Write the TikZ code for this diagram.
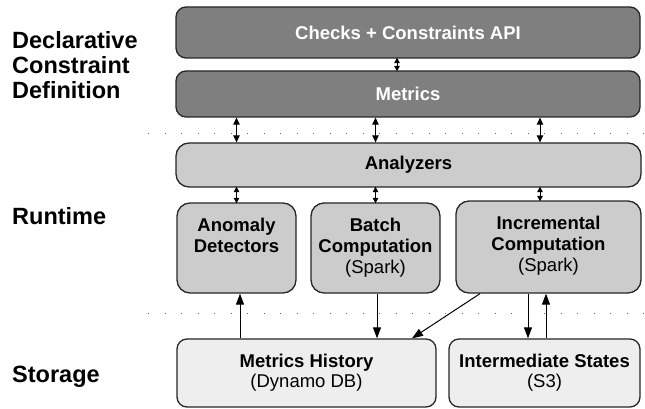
\documentclass[tikz,border=0pt]{standalone}
\usepackage{fontspec}
\setmainfont{Liberation Sans}
\usetikzlibrary{arrows.meta,positioning}

\definecolor{darkbox}{HTML}{7F7F7F}
\definecolor{midbox}{HTML}{CCCCCC}
\definecolor{lightbox}{HTML}{EEEEEE}

\tikzset{
  layerbox/.style={draw=black!85, line width=1.3pt, rounded corners=10pt, align=center, inner sep=0pt},
  apibox/.style={layerbox, fill=darkbox, text=white, font=\fontsize{18.5}{21}\selectfont\bfseries},
  runbox/.style={layerbox, fill=midbox, rounded corners=13pt},
  storebox/.style={layerbox, fill=lightbox, font=\fontsize{18.5}{20}\selectfont},
  boxtext/.style={align=center, inner sep=0pt, font=\fontsize{18.5}{21}\selectfont},
  sidelabel/.style={align=left, inner sep=0pt, font=\fontsize{23.5}{25}\selectfont\bfseries},
  dbl/.style={line width=0.9pt, {Triangle[length=7pt,width=6.5pt]}-{Triangle[length=7pt,width=6.5pt]}},
  smalldbl/.style={line width=1pt, shorten <=-1pt, shorten >=-1pt, {Triangle[length=5.5pt,width=5.5pt]}-{Triangle[length=5.5pt,width=5.5pt]}},
  flow/.style={line width=1pt, -{Triangle[length=11pt,width=8pt]}},
  layerline/.style={black!60, line width=0.9pt, dash pattern=on 0.9pt off 15.6pt}
}

\begin{document}
\begin{tikzpicture}[x=1pt, y=-1pt]
  \useasboundingbox (0,0) rectangle (645,409);

  %Linhas entre camadas
  \draw[layerline] (148,133) -- (645,133);
  \draw[layerline] (148,313) -- (645,313);

  %Rotulos laterais
  \node[sidelabel, anchor=north west] (decl) at (12,31) {Declarative\\Constraint\\Definition};
  \node[sidelabel, anchor=base west] (runlbl) at (12,224) {Runtime};
  \node[sidelabel, anchor=base west] (storelbl) at (12,382) {Storage};

  %Camada declarativa
  \node[apibox, minimum width=464, minimum height=51] (api) at (408,32.5) {Checks + Constraints API};
  \node[apibox, minimum width=464, minimum height=46] (metrics) at (408,94) {Metrics};

  %Camada de execucao
  \node[runbox, minimum width=465, minimum height=44, font=\fontsize{18.5}{21}\selectfont\bfseries] (analyzers) at (408.5,165) {Analyzers};
  \node[runbox, minimum width=119, minimum height=90] (anomaly) at (236.5,248) {};
  \node[boxtext, below=16pt of anomaly.north] (anomalytxt) {\textbf{Anomaly}\\\textbf{Detectors}};
  \node[runbox, minimum width=129, minimum height=90] (batch) at (375.5,248) {};
  \node[boxtext, below=16pt of batch.north] (batchtxt) {\textbf{Batch}\\\textbf{Computation}\\(Spark)};
  \node[runbox, minimum width=185, minimum height=92] (incr) at (548.5,247) {};
  \node[boxtext, below=16pt of incr.north] (incrtxt) {\textbf{Incremental}\\\textbf{Computation}\\(Spark)};

  %Camada de armazenamento
  \node[storebox, minimum width=259, minimum height=68] (history) at (306.5,373) {\textbf{Metrics History}\\(Dynamo DB)};
  \node[storebox, minimum width=191, minimum height=68] (states) at (544.5,373) {\textbf{Intermediate States}\\(S3)};

  %Setas duplas
  \draw[smalldbl] ([xshift=-11pt]api.south) -- ([xshift=-11pt]metrics.north);
  \draw[dbl] (metrics.south -| anomaly.north) -- (analyzers.north -| anomaly.north);
  \draw[dbl] (metrics.south -| batch.north) -- (analyzers.north -| batch.north);
  \draw[dbl] ([xshift=-8.5pt]metrics.south -| incr.north) -- ([xshift=-8.5pt]analyzers.north -| incr.north);
  \draw[smalldbl] (analyzers.south -| anomaly.north) -- (anomaly.north);
  \draw[smalldbl] (analyzers.south -| batch.north) -- (batch.north);
  \draw[smalldbl] ([xshift=-8.5pt]analyzers.south -| incr.north) -- ([xshift=-8.5pt]incr.north);

  %Fluxo com o armazenamento
  \draw[flow] ([xshift=3.5pt]anomaly.south |- history.north) -- ([xshift=3.5pt]anomaly.south);
  \draw[flow] ([xshift=1.5pt]batch.south) -- ([xshift=1.5pt]batch.south |- history.north);
  \draw[flow] ([xshift=-68.5pt]incr.south) -- ([xshift=105.5pt]history.north);
  \draw[flow] ([xshift=-20.5pt]incr.south) -- ([xshift=-20.5pt]incr.south |- states.north);
  \draw[flow] ([xshift=-2.5pt]incr.south |- states.north) -- ([xshift=-2.5pt]incr.south);
\end{tikzpicture}
\end{document}
